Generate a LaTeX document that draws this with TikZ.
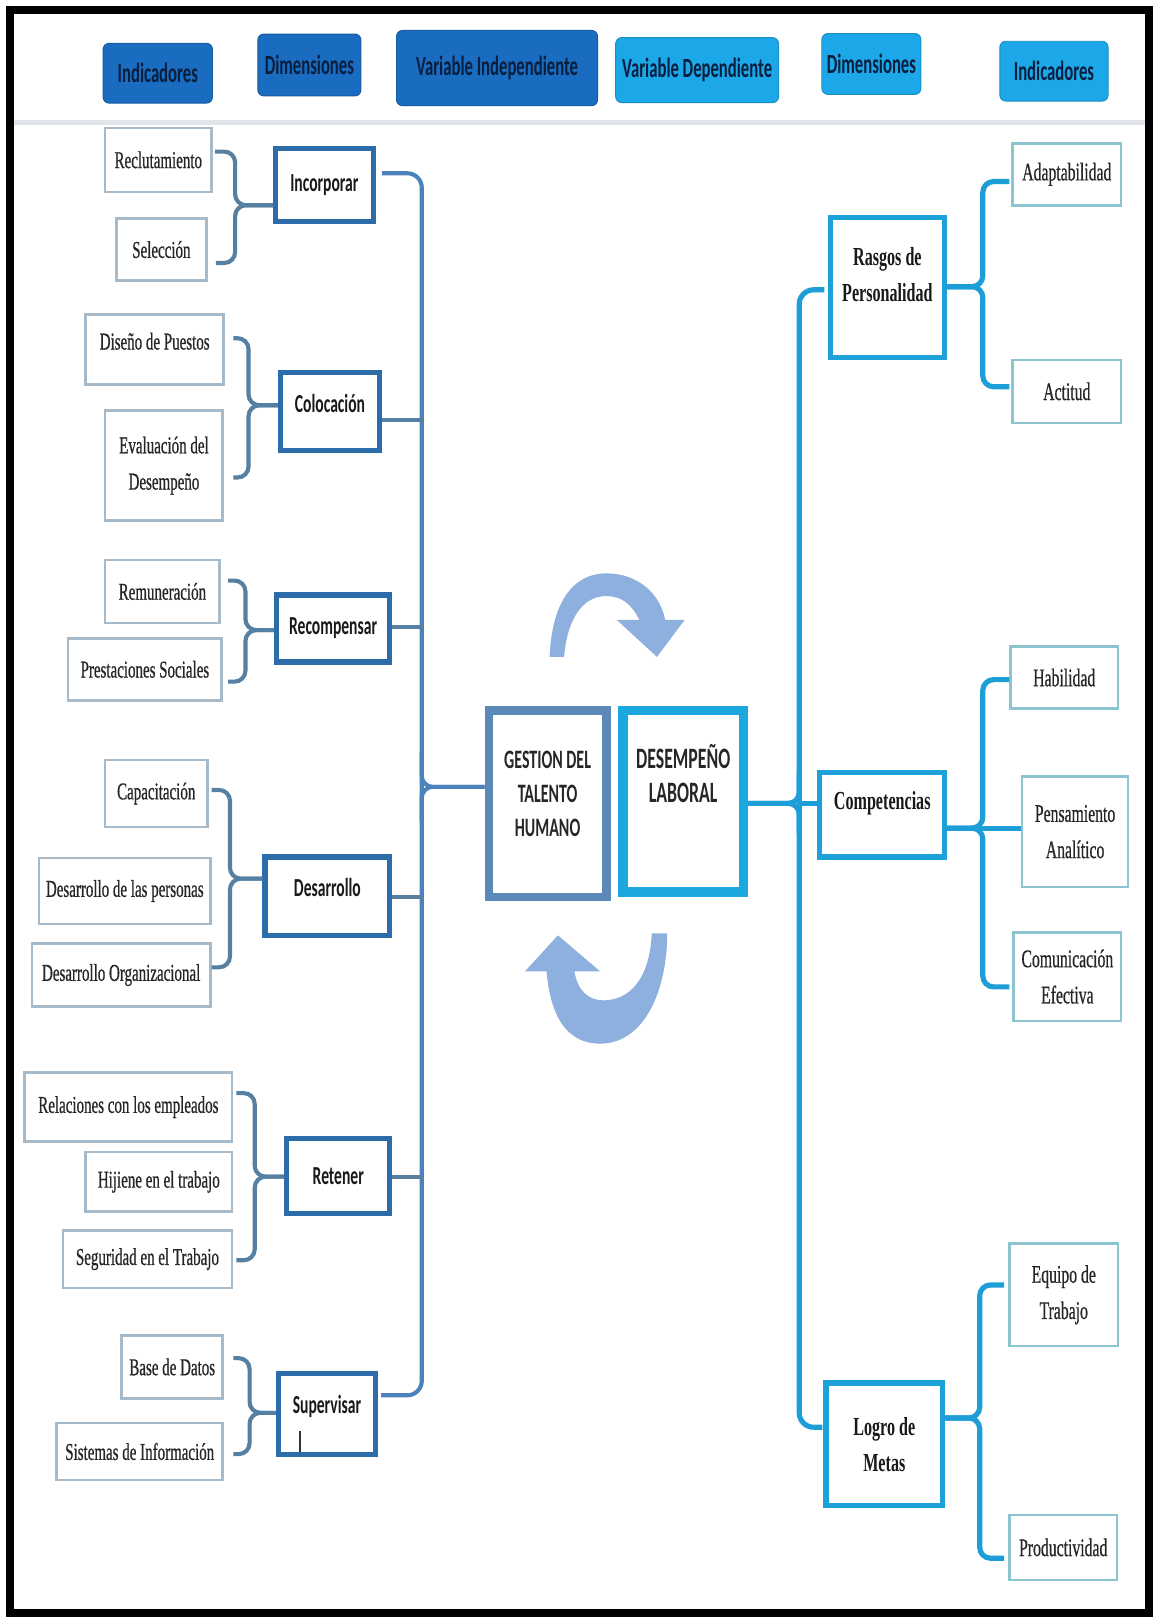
\documentclass[tikz,border=0pt]{standalone}
\usepackage{fontspec}
\usetikzlibrary{calc,shadows}
\newfontfamily\calb[FakeStretch=0.6]{Carlito}
\newfontfamily\tms[FakeStretch=0.62]{Liberation Serif}
\newfontfamily\tmsi[FakeStretch=0.62,FakeBold=0.6]{Liberation Serif}
\newlength\pxu
\setlength\pxu{0.03cm}
\definecolor{hdark}{RGB}{26,108,192}
\definecolor{hlight}{RGB}{28,168,232}
\definecolor{hdrtext}{RGB}{10,30,62}
\definecolor{indl}{RGB}{166,186,202}
\definecolor{indr}{RGB}{140,196,208}
\definecolor{indtext}{RGB}{38,38,38}
\definecolor{ldimc}{RGB}{44,108,170}
\definecolor{rdimc}{RGB}{28,160,216}
\definecolor{gestc}{RGB}{92,136,184}
\definecolor{desemc}{RGB}{26,168,222}
\definecolor{lbrc}{RGB}{86,128,162}
\definecolor{ltrc}{RGB}{76,130,188}
\definecolor{rc}{RGB}{29,158,214}
\definecolor{arrowc}{RGB}{141,176,222}
\definecolor{sepc}{RGB}{225,228,232}
\begin{document}
\begin{tikzpicture}[x=0.03cm,y=-0.03cm,
  hdr/.style={rounded corners=5pt, inner sep=0pt, draw=#1!85!black, fill=#1, line width=0.8pt,
    font=\calb\bfseries\fontsize{23}{26}\selectfont, text=hdrtext},
  ind/.style={draw=indl, line width=2.5\pxu, fill=white, inner sep=0pt, align=center,
    text=indtext, font=\tmsi\fontsize{20}{30}\selectfont},
  indR/.style={ind, draw=indr, font=\tmsi\fontsize{21}{30}\selectfont},
  ldim/.style={draw=ldimc, line width=5\pxu, fill=white, inner sep=0pt, align=center,
    text=black!90, font=\calb\bfseries\fontsize{21.5}{24}\selectfont},
  rdim/.style={draw=rdimc, line width=5\pxu, fill=white, inner sep=0pt, align=center,
    text=black!90, font=\tms\bfseries\fontsize{21.5}{30}\selectfont},
  cbox/.style={line width=8\pxu, fill=white, inner sep=0pt, align=center,
    text=black!85, font=\calb\bfseries\fontsize{22}{28}\selectfont},
  lbr/.style={draw=lbrc, line width=4\pxu, rounded corners=9pt},
  ltr/.style={draw=ltrc, line width=4\pxu, rounded corners=12pt},
  rbr/.style={draw=rc, line width=5\pxu, rounded corners=9pt}
]
\useasboundingbox (0,0) rectangle (1118,1568);
\fill[white] (0,0) rectangle (1118,1568);

% header separator
\draw[sepc, line width=5\pxu] (14,119) -- (1110,119);

% header boxes
\node[hdr=hdark, minimum width=106\pxu, minimum height=58\pxu] (hI1) at (153,71) {Indicadores};
\node[hdr=hdark, minimum width=100\pxu, minimum height=60\pxu] (hD1) at (300,63) {Dimensiones};
\node[hdr=hdark, minimum width=195\pxu, minimum height=73\pxu] (hVI) at (482,66) {Variable Independiente};
\node[hdr=hlight, minimum width=158\pxu, minimum height=63\pxu] (hVD) at (676,68) {Variable Dependiente};
\node[hdr=hlight, minimum width=96\pxu, minimum height=59\pxu] (hD2) at (845,62) {Dimensiones};
\node[hdr=hlight, minimum width=105\pxu, minimum height=58\pxu] (hI2) at (1022,69) {Indicadores};

% left indicators
\node[ind, minimum width=103\pxu, minimum height=62\pxu] (rec) at (153.5,155) {Reclutamiento};
\node[ind, minimum width=87\pxu, minimum height=60\pxu] (sel) at (156.5,242) {Selección};
\node[ind, minimum width=134\pxu, minimum height=68\pxu, text depth=14pt] (dis) at (150,339) {Diseño de Puestos};
\node[ind, minimum width=114\pxu, minimum height=107\pxu] (eva) at (159,451.5) {Evaluación del\\Desempeño};
\node[ind, minimum width=111\pxu, minimum height=61\pxu] (rem) at (157.5,573.5) {Remuneración};
\node[ind, minimum width=149\pxu, minimum height=60\pxu] (pre) at (140.5,649) {Prestaciones Sociales};
\node[ind, minimum width=99\pxu, minimum height=65\pxu] (cap) at (151.5,769.5) {Capacitación};
\node[ind, minimum width=166\pxu, minimum height=64\pxu] (dlp) at (121,864) {Desarrollo de las personas};
\node[ind, minimum width=173\pxu, minimum height=61\pxu] (dor) at (117.5,945.5) {Desarrollo Organizacional};
\node[ind, minimum width=201\pxu, minimum height=67\pxu] (rel) at (124.5,1073.5) {Relaciones con los empleados};
\node[ind, minimum width=142\pxu, minimum height=58\pxu] (hij) at (154,1146) {Hijiene en el trabajo};
\node[ind, minimum width=164\pxu, minimum height=56\pxu] (seg) at (143,1221) {Seguridad en el Trabajo};
\node[ind, minimum width=98\pxu, minimum height=61\pxu] (bas) at (167,1325.5) {Base de Datos};
\node[ind, minimum width=161\pxu, minimum height=55\pxu] (sis) at (135.5,1407.5) {Sistemas de Información};

% left dimensions
\node[ldim, minimum width=95\pxu, minimum height=71\pxu] (inc) at (314.5,179.5) {Incorporar};
\node[ldim, minimum width=96\pxu, minimum height=76\pxu, text depth=14pt] (col) at (320,399) {Colocación};
\node[ldim, minimum width=110\pxu, minimum height=65\pxu] (recp) at (323,609.5) {Recompensar};
\node[ldim, minimum width=121\pxu, minimum height=76\pxu, text depth=14pt] (des) at (317.5,869) {Desarrollo};
\node[ldim, minimum width=100\pxu, minimum height=73\pxu] (ret) at (328,1140.5) {Retener};
\node[ldim, minimum width=94\pxu, minimum height=78\pxu, text depth=16pt] (sup) at (317,1371) {Supervisar};
\draw[black!80, line width=1.3\pxu] (291,1388) -- (291,1408);

% central boxes
\node[cbox, draw=gestc, minimum width=114\pxu, minimum height=181\pxu, text depth=17pt] (gest) at (531,779.5) {GESTION DEL\\TALENTO\\HUMANO};
\node[cbox, draw=desemc, line width=9\pxu, minimum width=117\pxu, minimum height=176\pxu, text depth=46pt, font=\calb\bfseries\fontsize{24.5}{28}\selectfont] (desem) at (662.5,777) {DESEMPEÑO\\LABORAL};

% right dimensions
\node[rdim, minimum width=111\pxu, minimum height=136\pxu, text depth=22pt] (ras) at (860.5,279) {Rasgos de\\Personalidad};
\node[rdim, minimum width=121\pxu, minimum height=82\pxu, text depth=23pt] (comp) at (855.5,790) {Competencias};
\node[rdim, minimum width=113\pxu, minimum height=119\pxu] (logro) at (857.5,1400.5) {Logro de\\Metas};

% right indicators
\node[indR, minimum width=105\pxu, minimum height=60\pxu] (ada) at (1034.5,169) {Adaptabilidad};
\node[indR, minimum width=105\pxu, minimum height=61\pxu] (act) at (1034.5,379.5) {Actitud};
\node[indR, minimum width=104\pxu, minimum height=60\pxu] (hab) at (1032,657) {Habilidad};
\node[indR, minimum width=103\pxu, minimum height=107\pxu] (pen) at (1042.5,806.5) {Pensamiento\\Analítico};
\node[indR, minimum width=104\pxu, minimum height=86\pxu] (com) at (1035,947) {Comunicación\\Efectiva};
\node[indR, minimum width=105\pxu, minimum height=99\pxu] (equ) at (1031.5,1255.5) {Equipo de\\Trabajo};
\node[indR, minimum width=104\pxu, minimum height=63\pxu] (pro) at (1031,1500.5) {Productividad};

% trunk points
\coordinate (lt) at (409,763);
\coordinate (rt) at (775,779);

% left brackets
\draw[lbr] ($(rec.east)+(2,-8)$) -| (228,199) -- ($(inc.west)+(0,19.5)$);
\draw[lbr] ($(sel.east)+(8,13)$) -| (228,199) -- ($(inc.west)+(0,19.5)$);
\draw[lbr] ($(dis.east)+(8,-11)$) -| (241,393) -- ($(col.west)+(0,-6)$);
\draw[lbr] ($(eva.east)+(9,11.5)$) -| (241,393) -- ($(col.west)+(0,-6)$);
\draw[lbr] ($(rem.east)+(7,-10.5)$) -| (238,611) -- ($(recp.west)+(0,1.5)$);
\draw[lbr] ($(pre.east)+(5,12)$) -| (238,611) -- ($(recp.west)+(0,1.5)$);
\draw[lbr] ($(cap.east)+(3,-3.5)$) -| (223,852) -- ($(des.west)+(0,-17)$);
\draw[lbr] ($(dor.east)+(0,-7.5)$) -| (223,852) -- ($(des.west)+(0,-17)$);
\draw[lbr] ($(rel.east)+(3,-13.5)$) -| (247,1141) -- ($(ret.west)+(0,0.5)$);
\draw[lbr] ($(seg.east)+(3,1)$) -| (247,1141) -- ($(ret.west)+(0,0.5)$);
\draw[lbr] ($(bas.east)+(9,-8.5)$) -| (242,1370) -- ($(sup.west)+(0,-1)$);
\draw[lbr] ($(sis.east)+(9,2.5)$) -| (242,1370) -- ($(sup.west)+(0,-1)$);

% left trunk
\draw[ltr] ($(inc.east)+(6,-11.5)$) -| (409,760) |- ($(sup.east)+(3,-18)$);
\draw[ltr, draw=lbrc] ($(col.east)+(0,8)$) -- ++(41,0);
\draw[ltr, draw=lbrc] ($(recp.east)+(0,-1.5)$) -- ++(31,0);
\draw[ltr, draw=lbrc] ($(des.east)+(0,1)$) -- ++(31,0);
\draw[ltr, draw=lbrc] ($(ret.east)+(0,0.5)$) -- ++(31,0);
\draw[ltr, rounded corners=9pt] (409,730) -- (lt) -- ($(gest.west)+(0,-16.5)$);
\draw[ltr, rounded corners=9pt] (409,796) -- (lt) -- ($(gest.west)+(0,-16.5)$);

% right trunk
\draw[rbr, rounded corners=12pt] ($(ras.west)+(-3,2)$) -| (775,779) |- ($(logro.west)+(-1,-16.5)$);
\draw[rbr] (775,750) -- (rt) -- ($(desem.east)+(0,2)$);
\draw[rbr] (775,808) -- (rt) -- ($(desem.east)+(0,2)$);
\draw[rbr] (rt) -- ($(comp.west)+(0,-11)$);

% right brackets
\draw[rbr] ($(ada.west)+(-2,7)$) -| (953,278) -- ($(ras.east)+(0,-1)$);
\draw[rbr] ($(act.west)+(-2,-4.5)$) -| (953,278) -- ($(ras.east)+(0,-1)$);
\draw[rbr] ($(hab.west)+(0,2)$) -| (953,803) -- ($(comp.east)+(0,13)$);
\draw[rbr] ($(com.west)+(-3,10)$) -| (953,803) -- ($(comp.east)+(0,13)$);
\draw[rbr] ($(comp.east)+(0,13)$) -- ($(pen.west)+(0,-3.5)$);
\draw[rbr] ($(equ.west)+(-4,-9.5)$) -| (950,1375) -- ($(logro.east)+(0,-25.5)$);
\draw[rbr] ($(pro.west)+(-4,10.5)$) -| (950,1375) -- ($(logro.east)+(0,-25.5)$);

% cycle arrows
\fill[arrowc] (533,637) .. controls (535,585) and (555,556) .. (588,556)
  .. controls (618,556) and (640,575) .. (645,601) -- (664,601) -- (637,637) -- (598,601) -- (620,601)
  .. controls (612,585) and (602,578) .. (588,578)
  .. controls (565,578) and (550,600) .. (547,637) -- cycle;
\fill[arrowc] (530,942) .. controls (535,1000) and (560,1012) .. (582,1012)
  .. controls (625,1012) and (647,960) .. (647,905) -- (632,905)
  .. controls (630,950) and (610,970) .. (585,970)
  .. controls (570,970) and (560,960) .. (557,942) -- (582,942) -- (541,907) -- (509,942) -- cycle;

% frame
\draw[black, line width=8\pxu] (10,10) rectangle (1114,1564);
\end{tikzpicture}
\end{document}
